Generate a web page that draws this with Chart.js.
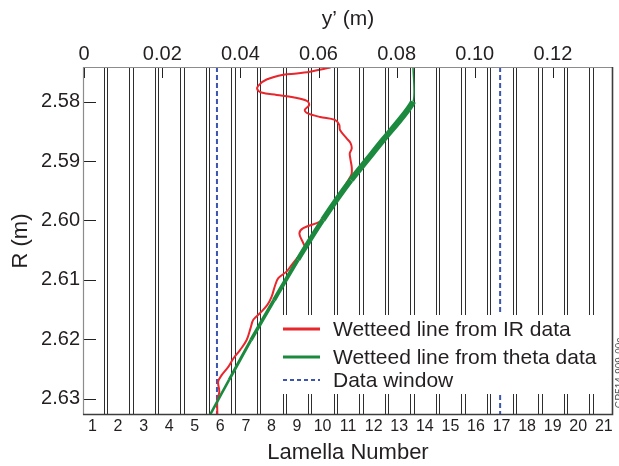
<!DOCTYPE html>
<html><head><meta charset="utf-8">
<script src="https://cdn.jsdelivr.net/npm/chart.js@4.4.1/dist/chart.umd.min.js"></script>
<style>html,body{margin:0;padding:0;background:#fff;}</style>
</head><body>
<canvas id="c" width="619" height="466"></canvas>
<script>
// ---- data ----
const lamellaNumbers = [1,2,3,4,5,6,7,8,9,10,11,12,13,14,15,16,17,18,19,20,21];
const lamellaEdges = [1.5,2.5,3.5,4.5,5.5,6.5,7.5,8.5,9.5,10.5,11.5,12.5,13.5,14.5,15.5,16.5,17.5,18.5,19.5,20.5];
const yPrimeTicks = [0,0.02,0.04,0.06,0.08,0.10,0.12];
const rTicks = [2.58,2.59,2.60,2.61,2.62,2.63];
const irYPrime = [0.0631,0.0578,0.0544,0.0510,0.0467,0.0448,0.0443,0.0454,0.0493,0.0535,0.0570,0.0576,0.0565,0.0570,0.0604,0.0642,0.0653,0.0655,0.0672,0.0682,0.0685,0.0680,0.0682,0.0685,0.0685,0.0682,0.0672,0.0647,0.0616,0.0604,0.0561,0.0551,0.0561,0.0565,0.0548,0.0531,0.0518,0.0497,0.0488,0.0480,0.0469,0.0450,0.0433,0.0426,0.0416,0.0399,0.0382,0.0369,0.0352,0.0343,0.0346,0.0341,0.0341];
const irR = [2.5743,2.5750,2.5753,2.5755,2.5763,2.5772,2.5779,2.5785,2.5789,2.5793,2.5799,2.5806,2.5814,2.5819,2.5826,2.5831,2.5839,2.5848,2.5862,2.5870,2.5879,2.5887,2.5898,2.5910,2.5921,2.5926,2.5937,2.5966,2.5994,2.6002,2.6013,2.6022,2.6038,2.6047,2.6061,2.6075,2.6086,2.6097,2.6111,2.6128,2.6142,2.6156,2.6167,2.6181,2.6201,2.6218,2.6232,2.6246,2.6260,2.6271,2.6288,2.6302,2.6327];
const thetaYPrime = [0.0842,0.0842,0.0765,0.0683,0.0611,0.0547,0.0486,0.0427,0.0371,0.0322];
const thetaR = [2.5742,2.5800,2.5865,2.5932,2.5999,2.6066,2.6134,2.6201,2.6268,2.6327];
const windowYPrime = [0.034, 0.1065];
const rRange = [2.5742, 2.6327];
const yPrimeRange = [-0.0003, 0.1354];
const lamellaRange = [0.63, 21.36];

// ---- styles ----
const FONT = "'Liberation Sans', Arial, Helvetica, sans-serif";
const INK = '#231f20';
const RED = '#e8262b', GREEN = '#1b8a3e', BLUE = '#3b55b0';
const greenWidths = [1.5, 6, 6, 5.5, 5, 4.2, 3.6, 3, 2.6];

const pts = (xs, ys) => xs.map((v, i) => ({x: v, y: ys[i]}));
const windowPts = [];
windowYPrime.forEach((w, i) => {
  if (i > 0) windowPts.push({x: w, y: null});
  windowPts.push({x: w, y: rRange[0]}, {x: w, y: rRange[1]});
});

const edgePlugin = {
  id: 'lamellaEdges',
  beforeDatasetsDraw(chart) {
    const {ctx, chartArea: a, scales: {x}} = chart;
    ctx.save();
    ctx.strokeStyle = '#2e2e2e';
    ctx.lineWidth = 1;
    ctx.beginPath();
    lamellaEdges.forEach(e => {
      const px = x.getPixelForValue(e);
      [-1.7, 1.7].forEach(o => {
        const xx = Math.round(px + o) + 0.5;
        ctx.moveTo(xx, a.top); ctx.lineTo(xx, a.bottom);
      });
    });
    ctx.stroke();
    ctx.restore();
  }
};

const framePlugin = {
  id: 'frame',
  afterDatasetsDraw(chart) {
    const {ctx, chartArea: a, scales} = chart;
    ctx.save();
    // legend box
    const bx = a.left + 190, by = a.top + 248, bw = a.right - 2 - bx, bh = 79;
    ctx.fillStyle = '#fff';
    ctx.fillRect(bx, by, bw, bh);
    const items = chart.data.datasets;
    const rows = [a.top + 262, a.top + 290, a.top + 313];
    ctx.font = '21px ' + FONT;
    ctx.textBaseline = 'middle';
    ctx.textAlign = 'left';
    items.forEach((d, i) => {
      const y = rows[i];
      ctx.beginPath();
      ctx.strokeStyle = d.borderColor;
      ctx.lineWidth = i === 2 ? 2 : 3;
      ctx.setLineDash(i === 2 ? [4, 3] : []);
      ctx.moveTo(a.left + 200, y); ctx.lineTo(a.left + 237, y);
      ctx.stroke();
      ctx.setLineDash([]);
      ctx.fillStyle = INK;
      ctx.fillText(d.label, a.left + 250, y + 1);
    });
    // inward tick marks
    ctx.strokeStyle = '#222';
    ctx.lineWidth = 1;
    ctx.beginPath();
    scales.x2.ticks.forEach(t => {
      const px = Math.round(scales.x2.getPixelForValue(t.value)) + 0.5;
      ctx.moveTo(px, a.top); ctx.lineTo(px, a.top + 11);
    });
    scales.y.ticks.forEach(t => {
      const py = Math.round(scales.y.getPixelForValue(t.value)) + 0.5;
      ctx.moveTo(a.left, py); ctx.lineTo(a.left + 13, py);
    });
    ctx.stroke();
    // frame
    ctx.strokeStyle = '#8c8c8c';
    ctx.lineWidth = 1.2;
    ctx.beginPath();
    ctx.moveTo(a.left + 0.5, a.bottom); ctx.lineTo(a.left + 0.5, a.top + 0.5); ctx.lineTo(a.right, a.top + 0.5);
    ctx.stroke();
    ctx.strokeStyle = '#3d3d3d';
    ctx.lineWidth = 1.6;
    ctx.beginPath();
    ctx.moveTo(a.right - 0.5, a.top); ctx.lineTo(a.right - 0.5, a.bottom - 0.5); ctx.lineTo(a.left, a.bottom - 0.5);
    ctx.stroke();
    // figure id
    ctx.translate(a.right + 7, a.bottom - 42);
    ctx.rotate(-Math.PI / 2);
    ctx.font = '10px ' + FONT;
    ctx.fillStyle = '#555';
    ctx.textAlign = 'center';
    ctx.fillText('GP514-909-00c', 0, 0);
    ctx.restore();
  }
};

new Chart(document.getElementById('c'), {
  type: 'line',
  data: {
    datasets: [
      {label: 'Wetteed line from IR data', data: pts(irYPrime, irR), xAxisID: 'x2', yAxisID: 'y',
       borderColor: RED, borderWidth: 2, pointRadius: 0, tension: 0.35, fill: false, order: 2},
      {label: 'Wetteed line from theta data', data: pts(thetaYPrime, thetaR), xAxisID: 'x2', yAxisID: 'y',
       borderColor: GREEN, borderWidth: 3, pointRadius: 0, tension: 0.2, fill: false, order: 1,
       segment: {borderWidth: c => greenWidths[c.p0DataIndex]}},
      {label: 'Data window', data: windowPts, xAxisID: 'x2', yAxisID: 'y',
       borderColor: BLUE, borderWidth: 2, borderDash: [5, 3], pointRadius: 0, spanGaps: false, fill: false, order: 3}
    ]
  },
  options: {
    responsive: false, devicePixelRatio: 1, animation: false,
    layout: {padding: {left: 0, right: 6, top: 0, bottom: 0}},
    plugins: {legend: {display: false}, tooltip: {enabled: false}},
    scales: {
      x: {type: 'linear', position: 'bottom', min: lamellaRange[0], max: lamellaRange[1],
          afterBuildTicks: s => { s.ticks = lamellaNumbers.map(v => ({value: v})); },
          afterFit: s => { s.height = 51; },
          grid: {display: false, drawTicks: false}, border: {display: false},
          ticks: {font: {family: FONT, size: 16}, color: INK, padding: 2, maxRotation: 0, autoSkip: false,
                  callback: v => String(v)},
          title: {display: true, text: 'Lamella Number', font: {family: FONT, size: 22}, color: INK, padding: {top: 0, bottom: 0}}},
      x2: {type: 'linear', position: 'top', min: yPrimeRange[0], max: yPrimeRange[1],
          afterBuildTicks: s => { s.ticks = yPrimeTicks.map(v => ({value: v})); },
          afterFit: s => { s.height = 67; },
          grid: {display: false, drawTicks: false}, border: {display: false},
          ticks: {font: {family: FONT, size: 20}, color: INK, padding: 1, maxRotation: 0, autoSkip: false,
                  callback: v => v === 0 ? '0' : v.toFixed(2)},
          title: {display: true, text: 'y\u2019 (m)', font: {family: FONT, size: 21}, color: INK, padding: {top: 7, bottom: 0}}},
      y: {type: 'linear', position: 'left', reverse: true, min: rRange[0], max: rRange[1],
          afterBuildTicks: s => { s.ticks = rTicks.map(v => ({value: v})); },
          afterFit: s => { s.width = 83; },
          grid: {display: false, drawTicks: false}, border: {display: false},
          ticks: {font: {family: FONT, size: 20}, color: INK, padding: 3, autoSkip: false,
                  callback: v => v.toFixed(2)},
          title: {display: true, text: 'R (m)', font: {family: FONT, size: 22}, color: INK, padding: {top: 8, bottom: 0}}}
    }
  },
  plugins: [edgePlugin, framePlugin]
});
</script>
</body></html>
